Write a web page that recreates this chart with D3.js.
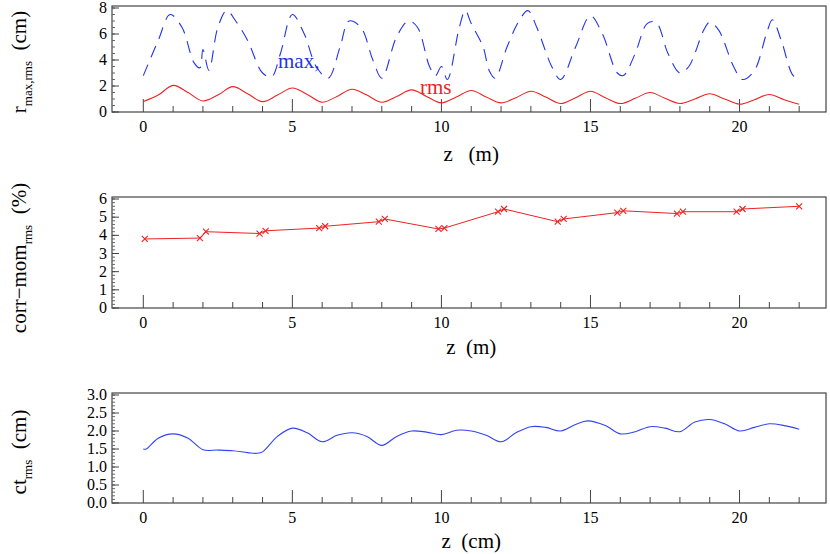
<!DOCTYPE html>
<html><head><meta charset="utf-8"><script src="https://cdn.jsdelivr.net/npm/d3@7"></script>
<style>body{margin:0;background:#fff}svg text{font-family:'Liberation Serif','DejaVu Serif',serif}</style></head>
<body><svg id="c" width="830" height="554" font-family="Liberation Serif, DejaVu Serif, serif"></svg>
<script>
const xTicks=[0,5,10,15,20];
const rmsZ=[0,0.5,1,1.5,2,2.5,3,3.5,4,4.5,5,5.5,6,6.5,7,7.5,8,8.5,9,9.5,10,10.5,11,11.5,12,12.5,13,13.5,14,14.5,15,15.5,16,16.5,17,17.5,18,18.5,19,19.5,20,20.5,21,21.5,22];
const rmsV=[0.8,1.3,2.05,1.5,0.85,1.3,1.95,1.4,0.8,1.3,1.85,1.35,0.75,1.2,1.75,1.3,0.75,1.2,1.7,1.2,0.7,1.15,1.65,1.15,0.7,1.1,1.6,1.15,0.65,1.1,1.6,1.1,0.65,1.05,1.5,1.05,0.65,1.0,1.4,1.0,0.6,0.95,1.35,0.95,0.6];
const maxZ=[0,0.5,0.9,1.3,1.7,1.9,2.0,2.2,2.5,2.8,3.1,3.5,4.0,4.3,4.6,5.0,5.4,5.8,6.2,6.6,6.9,7.3,7.7,8.0,8.5,8.9,9.2,9.6,9.8,10.0,10.2,10.6,10.8,11.0,11.4,11.6,11.8,12.2,12.6,12.9,13.2,13.7,14.0,14.5,15.0,15.4,15.9,16.1,16.5,16.9,17.2,17.6,18.0,18.3,18.5,18.8,19.0,19.3,19.8,20.1,20.5,20.9,21.1,21.4,21.8,22.0];
const maxV=[2.8,5.5,7.5,6.5,3.8,3.4,4.8,3.2,6.5,7.8,7.0,5.5,3.0,2.7,4.5,7.5,6.0,3.5,2.6,5.0,7.0,6.5,4.0,2.6,5.8,7.0,6.5,3.5,2.8,3.5,2.5,6.5,7.8,6.8,5.0,3.2,2.6,5.0,7.0,7.8,6.5,3.5,2.5,5.0,7.4,6.0,3.0,2.8,4.5,6.8,6.9,4.5,3.0,3.5,4.5,6.3,6.9,6.3,3.5,2.5,3.2,6.0,7.1,5.5,2.8,2.6];
const corrZ=[0.05,1.9,2.1,3.9,4.1,5.9,6.1,7.9,8.1,9.9,10.1,11.9,12.1,13.9,14.1,15.9,16.1,17.9,18.1,19.9,20.1,22];
const corrV=[3.8,3.85,4.2,4.1,4.25,4.4,4.5,4.75,4.9,4.35,4.4,5.3,5.45,4.75,4.9,5.25,5.35,5.2,5.3,5.3,5.45,5.6];
const ctZ=[0,0.1,0.5,1,1.5,2,2.5,3,3.5,3.8,4,4.5,5,5.5,6,6.5,7,7.5,8,8.5,9,9.5,10,10.5,11,11.5,12,12.5,13,13.5,14,14.5,14.9,15.5,16,16.5,17,17.5,18,18.5,19,19.5,20,20.5,21,21.5,22];
const ctV=[1.5,1.5,1.8,1.92,1.8,1.48,1.47,1.45,1.4,1.38,1.42,1.85,2.08,1.95,1.7,1.88,1.95,1.85,1.6,1.85,2.0,1.97,1.9,2.02,2.0,1.88,1.7,1.95,2.12,2.1,2.0,2.18,2.28,2.15,1.92,1.98,2.12,2.08,1.98,2.25,2.32,2.2,2.0,2.1,2.2,2.15,2.05];
const yTicks1=[0,2,4,6,8], yTicks2=[0,1,2,3,4,5,6], yTicks3=[0,0.5,1,1.5,2,2.5,3];

const svg=d3.select("#c");
const FF="Liberation Serif, DejaVu Serif, serif";
const L=112,R=826;
const x=d3.scaleLinear().domain([-1.05,22.9]).range([L,R]);
function panel(top,bot,ymax,yt,minorStep,fmt,xlab,xlabY){
  const y=d3.scaleLinear().domain([0,ymax]).range([bot,top]);
  const g=svg.append("g");
  g.append("rect").attr("x",L).attr("y",top-2).attr("width",R-L).attr("height",bot-top+2).attr("fill","none").attr("stroke","#444").attr("stroke-width",1.2);
  d3.range(0,23,1).forEach(v=>{const M=v%5===0;g.append("line").attr("x1",x(v)).attr("x2",x(v)).attr("y1",bot).attr("y2",bot-(M?13:6)).attr("stroke","#444");});
  d3.range(0,ymax+1e-9,minorStep).forEach(v=>{g.append("line").attr("x1",L).attr("x2",L+3).attr("y1",y(v)).attr("y2",y(v)).attr("stroke","#666");});
  yt.forEach(v=>{g.append("line").attr("x1",L).attr("x2",L+7).attr("y1",y(v)).attr("y2",y(v)).attr("stroke","#444");
    g.append("text").attr("font-family",FF).attr("x",L-5).attr("y",y(v)+5).attr("text-anchor","end").attr("font-size",16).text(fmt(v));});
  xTicks.forEach(v=>g.append("text").attr("font-family",FF).attr("x",x(v)).attr("y",bot+20).attr("text-anchor","middle").attr("font-size",16).text(v));
  g.append("text").attr("font-family",FF).attr("x",x(11)).attr("y",xlabY).attr("text-anchor","middle").attr("font-size",21).attr("xml:space","preserve").text(xlab);
  return y;
}
const y1=panel(8,112,8,yTicks1,0.5,d=>d,"z   (m)",161);
svg.append("path").datum(maxZ.map((z,i)=>[z,maxV[i]])).attr("fill","none").attr("stroke","#2233ee").attr("stroke-width",1.1).attr("stroke-dasharray","12,8")
  .attr("d",d3.line().x(d=>x(d[0])).y(d=>y1(d[1])).curve(d3.curveCatmullRom));
svg.append("path").datum(rmsZ.map((z,i)=>[z,rmsV[i]])).attr("fill","none").attr("stroke","#ee2222").attr("stroke-width",1.1)
  .attr("d",d3.line().x(d=>x(d[0])).y(d=>y1(d[1])).curve(d3.curveCatmullRom));
svg.append("text").attr("font-family",FF).attr("x",278).attr("y",68).attr("fill","#2233ee").attr("font-size",21).text("max,");
svg.append("text").attr("font-family",FF).attr("x",420).attr("y",94).attr("fill","#ee2222").attr("font-size",21).text("rms");
const y2=panel(199,308,6,yTicks2,0.2,d=>d,"z  (m)",354);
const cp=corrZ.map((z,i)=>[z,corrV[i]]);
svg.append("path").datum(cp).attr("fill","none").attr("stroke","#ee2222").attr("stroke-width",1).attr("d",d3.line().x(d=>x(d[0])).y(d=>y2(d[1])));
svg.selectAll(".m").data(cp).enter().append("path").attr("stroke","#ee2222").attr("stroke-width",1.1)
  .attr("d",d=>{const a=x(d[0]),b=y2(d[1]);return `M${a-3},${b-3}L${a+3},${b+3}M${a-3},${b+3}L${a+3},${b-3}`;});
const y3=panel(395,503,3,yTicks3,0.1,d=>d.toFixed(1),"z  (cm)",548);
svg.append("path").datum(ctZ.map((z,i)=>[z,ctV[i]])).attr("fill","none").attr("stroke","#3344ee").attr("stroke-width",1.1)
  .attr("d",d3.line().x(d=>x(d[0])).y(d=>y3(d[1])).curve(d3.curveCatmullRom));
function ytitle(cx,cy,main,sub,unit){
  const t=svg.append("text").attr("font-family",FF).attr("transform",`translate(${cx},${cy}) rotate(-90)`).attr("text-anchor","middle").attr("font-size",21).attr("xml:space","preserve");
  t.append("tspan").text(main);
  t.append("tspan").attr("font-size",13).attr("dy",6).text(sub);
  t.append("tspan").attr("dy",-6).text(unit);
}
ytitle(26,62,"r","max,rms","  (cm)");
ytitle(26,258,"corr\u2212mom","rms","  (%)");
ytitle(26,452,"ct","rms","  (cm)");
</script></body></html>
